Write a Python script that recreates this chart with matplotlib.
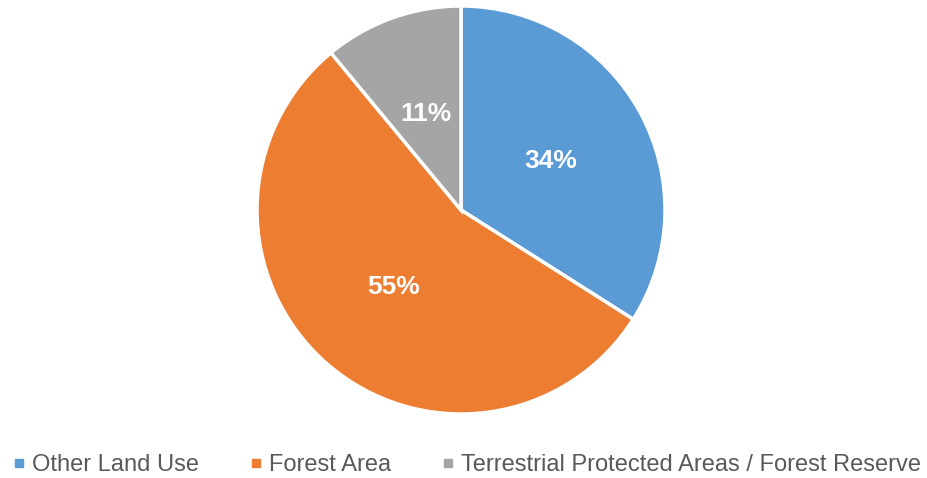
import matplotlib.pyplot as plt
from matplotlib.lines import Line2D

plt.rcParams['font.family'] = ['Liberation Sans', 'DejaVu Sans']

labels = ['Other Land Use', 'Forest Area', 'Terrestrial Protected Areas / Forest Reserve']
shares = [34, 55, 11]
colors = ['#5B9BD5', '#ED7D31', '#A5A5A5']

W, H = 927, 478
fig = plt.figure(figsize=(W / 100, H / 100), dpi=100)

# pie centred at (461, 210) px with radius 204 px
cx, cy, r = 461, 210, 204
ax = fig.add_axes([(cx - r) / W, (H - cy - r) / H, 2 * r / W, 2 * r / H])
wedges, texts, autotexts = ax.pie(
    shares, colors=colors, startangle=90, counterclock=False, radius=1,
    autopct='%d%%', pctdistance=0.5,
    wedgeprops=dict(edgecolor='white', linewidth=2.5),
    textprops=dict(color='white', fontsize=19, fontweight='bold'))
ax.set_xlim(-1.0, 1.0)
ax.set_ylim(-1.0, 1.0)
ax.set_aspect('equal')
ax.axis('off')

handles = [Line2D([0], [0], marker='s', linestyle='', markersize=6,
                  markerfacecolor=c, markeredgecolor=c) for c in colors]
fig.legend(handles, labels, loc='center', bbox_to_anchor=(0.503, 1 - 465 / H),
           ncol=3, frameon=False, fontsize=17, handletextpad=0.25,
           columnspacing=2.1, labelcolor='#595959', handlelength=0.6)

fig.savefig('out.png', dpi=100)
